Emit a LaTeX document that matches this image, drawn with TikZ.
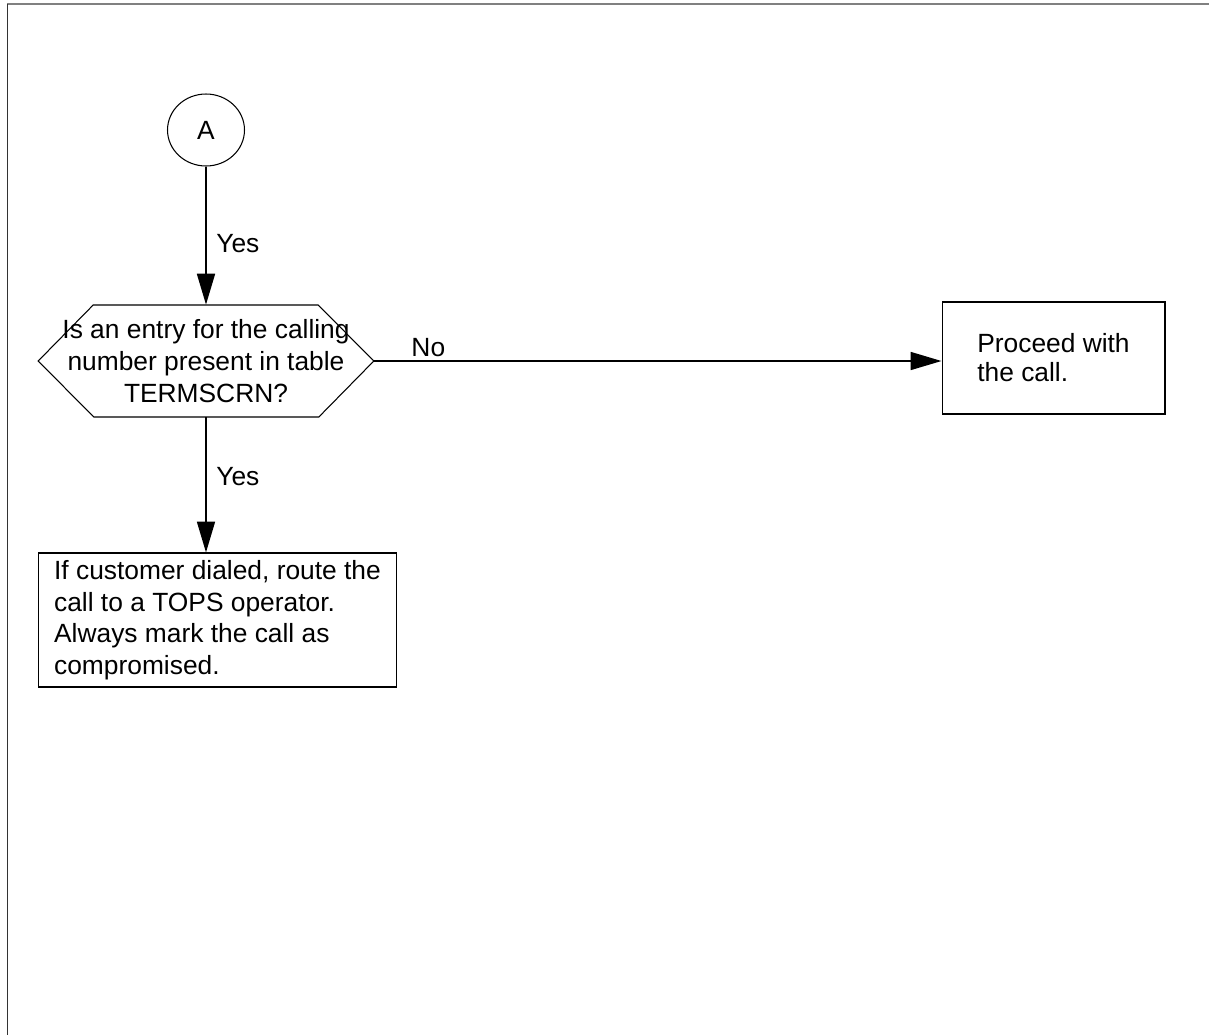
\documentclass[tikz,border=0pt]{standalone}
\usepackage{fontspec}
\setmainfont{Liberation Sans}
\usetikzlibrary{arrows.meta,shapes.geometric}

\begin{document}
\begin{tikzpicture}[x=0.02cm,y=-0.02cm,
  every node/.style={font=\fontsize{15}{18}\selectfont},
  box/.style={draw,line width=0.6pt,align=left},
  flow/.style={line width=1.1pt,-{Triangle[length=17.6pt,width=10.2pt]}},
  lbl/.style={inner sep=2pt}]
\useasboundingbox (0,0) rectangle (1209,1035);
\draw[gray,line width=1.2pt] (7,4) -- (1209,4);
\draw[black!80,line width=0.4pt] (7,4) -- (7,1035);

\node[draw,ellipse,line width=0.6pt,minimum width=1.54cm,minimum height=1.44cm,inner sep=0pt] (a) at (206,130) {A};
\node[align=center,minimum width=6.7cm,minimum height=2.24cm,inner sep=0pt] (q) at (206,361)
  {Is an entry for the calling\\number present in table\\TERMSCRN?};
\draw[line width=0.6pt] (q.west) -- ++(55,-56) -- ++(225,0) -- (q.east) -- ++(-55,56) -- ++(-225,0) -- cycle;
\node[box,minimum width=4.46cm,minimum height=2.24cm,font=\fontsize{15}{16.5}\selectfont] (p) at (1053.5,358)
  {Proceed with\\the call.};
\node[box,minimum width=7.18cm,minimum height=2.68cm] (c) at (217.5,620)
  {If customer dialed, route the\\call to a TOPS operator.\\Always mark the call as\\compromised.};

\draw[flow] (a) -- node[right,pos=.56,xshift=2pt] {Yes} (q);
\draw[flow] (q.south) -- node[right,pos=.44,xshift=2pt] {Yes} (q.south |- c.north);
\draw[flow] (q.east) -- node[lbl,above,pos=.096] {No} (q.east -| p.west);
\end{tikzpicture}
\end{document}
